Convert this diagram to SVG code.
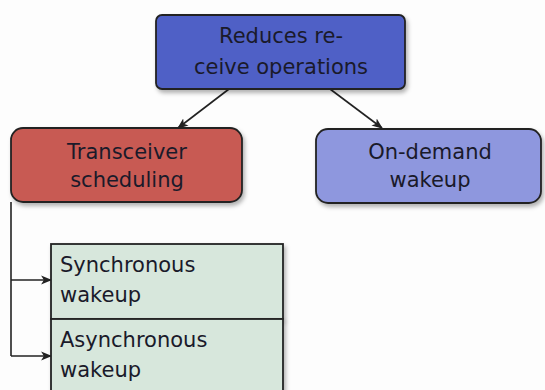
<svg xmlns="http://www.w3.org/2000/svg" width="545" height="390" viewBox="0 0 545 390">
<style>
text{font-family:"DejaVu Sans","Liberation Sans",sans-serif;font-size:21px;fill:#1a1a2a}
.c{text-anchor:middle}
.box{stroke:#222;stroke-width:1.8}
.edge{stroke:#222;stroke-width:1.6;fill:none}
</style>
<defs>
<marker id="ah" viewBox="0 0 10 10" refX="9" refY="5" markerWidth="11" markerHeight="11" orient="auto" markerUnits="userSpaceOnUse">
<path d="M0,1 L10,5 L0,9 L2.5,5 z" fill="#222"/>
</marker>
<filter id="sh" x="-10%" y="-10%" width="130%" height="140%">
<feDropShadow dx="2" dy="3" stdDeviation="2" flood-color="#000" flood-opacity="0.3"/>
</filter>
</defs>
<rect width="545" height="390" fill="#fdfdfd"/>
<g id="connectors">
<path class="edge" d="M229,89 L178,128" marker-end="url(#ah)"/>
<path class="edge" d="M330,89 L382,128" marker-end="url(#ah)"/>
<path class="edge" d="M11,202 L11,356"/>
<path class="edge" d="M11,280 L51,280" marker-end="url(#ah)"/>
<path class="edge" d="M11,356 L51,356" marker-end="url(#ah)"/>
</g>
<g id="root">
<rect class="box" x="156" y="15" width="249" height="74" rx="6" fill="#4f60c6" filter="url(#sh)"/>
<text class="c" x="281" y="43">Reduces re-</text>
<text class="c" x="281" y="74">ceive operations</text>
</g>
<g id="transceiver">
<rect class="box" x="11" y="128" width="231" height="74" rx="12" fill="#c85a52" filter="url(#sh)"/>
<text class="c" x="127" y="159">Transceiver</text>
<text class="c" x="127" y="187">scheduling</text>
</g>
<g id="ondemand">
<rect class="box" x="316" y="129" width="225" height="74" rx="12" fill="#8e97de" filter="url(#sh)"/>
<text class="c" x="430" y="159">On-demand</text>
<text class="c" x="430" y="187">wakeup</text>
</g>
<g id="sync">
<rect class="box" x="51" y="244" width="232" height="75" fill="#d7e7dc" filter="url(#sh)"/>
<text x="60" y="272">Synchronous</text>
<text x="60" y="302">wakeup</text>
</g>
<g id="async">
<rect class="box" x="51" y="319" width="232" height="80" fill="#d7e7dc" filter="url(#sh)"/>
<text x="60" y="347">Asynchronous</text>
<text x="60" y="377">wakeup</text>
</g>
</svg>
